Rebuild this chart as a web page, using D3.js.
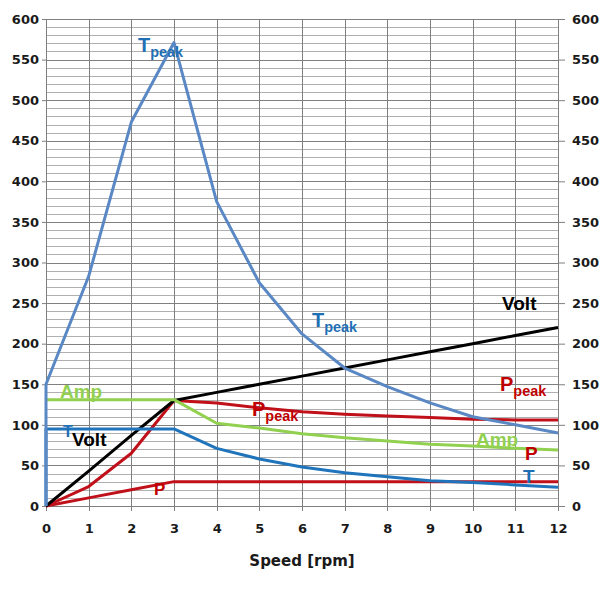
<!DOCTYPE html>
<html><head><meta charset="utf-8">
<script src="https://cdn.jsdelivr.net/npm/d3@7"></script>
<style>body{margin:0;background:#fff}svg{display:block}</style>
</head><body>
<script>
const speeds = [0,1,2,3,4,5,6,7,8,9,10,11,12];
const tpeak = [150,283,473,571,375,275,212,170,147,127,110,100,90];
const tval  = [95,95,95,95,71,58,48,41,36,31,29,26,23];
const ppeak = [0,24,65,130,127,121,116,113,111,109,107,106,106];
const pval  = [0,10,20,30,30,30,30,30,30,30,30,30,30];
const amp   = [131,131,131,131,102,96,89,84,80,76,74,71,69];
const volt  = [0,43,87,130,140,150,160,170,180,190,200,210,220];
const yTicks = [0,50,100,150,200,250,300,350,400,450,500,550,600];
const xLabel = "Speed [rpm]";

const W=605,H=589;
const svg=d3.select("body").append("svg").attr("width",W).attr("height",H);
const x=d3.scaleLinear().domain([0,12]).range([46,558]);
const y=d3.scaleLinear().domain([0,600]).range([506,19]);

const g=svg.append("g");
g.selectAll("line.minor").data(d3.range(0,601,10).filter(v=>v%50!==0)).join("line")
 .attr("x1",x(0)).attr("x2",x(12)).attr("y1",d=>Math.round(y(d))+0.5).attr("y2",d=>Math.round(y(d))+0.5)
 .attr("stroke","#b0b0b0").attr("stroke-width",1);
g.selectAll("line.major").data(yTicks).join("line")
 .attr("x1",x(0)).attr("x2",x(12)).attr("y1",d=>Math.round(y(d))+0.5).attr("y2",d=>Math.round(y(d))+0.5)
 .attr("stroke","#7f7f7f").attr("stroke-width",1);
g.selectAll("line.vert").data(speeds).join("line")
 .attr("x1",d=>Math.round(x(d))+0.5).attr("x2",d=>Math.round(x(d))+0.5).attr("y1",y(600)).attr("y2",y(0)+5)
 .attr("stroke","#7f7f7f").attr("stroke-width",1);

const fontT="'DejaVu Sans', sans-serif";
const yl=d3.axisLeft(y).tickValues(yTicks).tickSize(4).tickPadding(3);
const yr=d3.axisRight(y).tickValues(yTicks).tickSize(7).tickPadding(7);
const xb=d3.axisBottom(x).tickValues(speeds).tickSize(0).tickPadding(18);
function style(a){a.select(".domain").remove();a.selectAll("line").attr("stroke","#7f7f7f");
 a.selectAll("text").attr("font-family",fontT).attr("font-weight","bold").attr("font-size","13px").attr("fill","#1a1a1a");}
svg.append("g").attr("transform","translate(46,0)").call(yl).call(style);
svg.append("g").attr("transform","translate(558,0)").call(yr).call(style).selectAll("text").attr("text-anchor","start");
svg.append("g").attr("transform","translate(0,506)").call(xb).call(style);
svg.append("text").attr("x",302).attr("y",566).attr("text-anchor","middle").attr("font-family",fontT)
 .attr("font-weight","bold").attr("font-size","15px").attr("fill","#1a1a1a").text(xLabel);

const line=d3.line().x(d=>x(d[0])).y(d=>y(d[1]));
function series(vals,color,lead){
  let pts=speeds.map((s,i)=>[s,vals[i]]);
  if(lead) pts=[[0,0]].concat(pts);
  svg.append("path").attr("d",line(pts)).attr("fill","none").attr("stroke",color)
   .attr("stroke-width",3).attr("stroke-linejoin","round");
}
series(pval,"#c0101a");
series(ppeak,"#c0101a");
series(volt,"#000000");
series(amp,"#92d050");
series(tval,"#1f74bb",true);
series(tpeak,"#5a88c4",true);

const fL="'Liberation Sans', Arial, sans-serif";
function lab(txt,sub,px,py,color,size){
  const t=svg.append("text").attr("x",px).attr("y",py).attr("font-family",fL).attr("font-weight","bold")
   .attr("font-size",size+"px").attr("fill",color);
  t.append("tspan").text(txt);
  if(sub) t.append("tspan").attr("dy",5).attr("font-size",(size*0.72)+"px").text(sub);
}
lab("T","peak",138,52,"#1f6fb5",20);
lab("T","peak",312,327,"#1f6fb5",20);
lab("Volt",null,502,310,"#000",19);
lab("P","peak",500,391,"#c00000",20);
lab("P","peak",252,416,"#c00000",20);
lab("Amp",null,60,398,"#92d050",19);
lab("Amp",null,476,446,"#92d050",19);
lab("P",null,525,460,"#c00000",19);
lab("T",null,523,483,"#1f6fb5",19);
lab("T",null,63,437,"#1f6fb5",16);
lab("Volt",null,72,446,"#000",19);
lab("P",null,154,495,"#c00000",17);
</script>
</body></html>
